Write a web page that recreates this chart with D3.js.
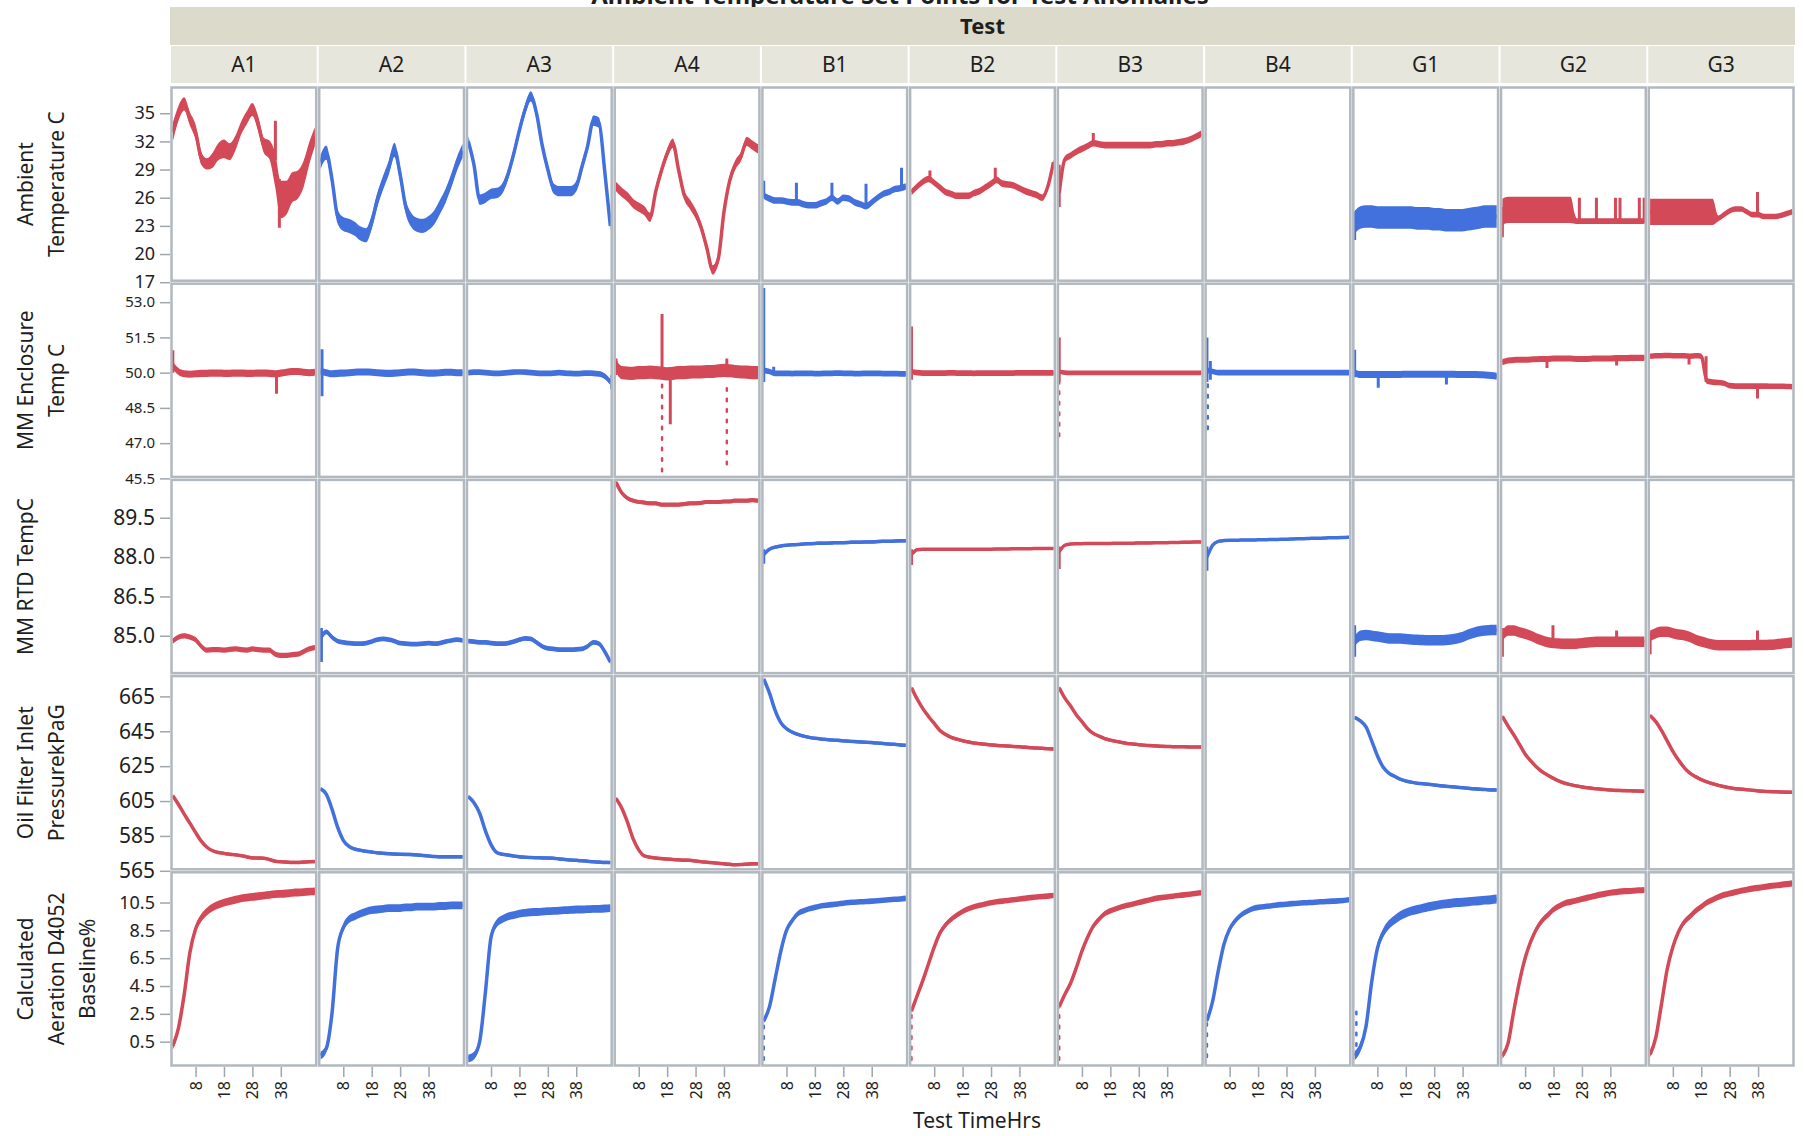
<!DOCTYPE html>
<html><head><meta charset="utf-8">
<script src="https://cdn.jsdelivr.net/npm/d3@7"></script>
<style>
body{margin:0;background:#fff}
svg{display:block}
text{font-family:"Noto Sans","Open Sans",sans-serif;fill:#1e1e1e}
</style></head>
<body><svg id="chart" width="1805" height="1136"></svg>
<script>
// ---------------- DATA ----------------
const chartTitle = "Ambient Temperature Set Points for Test Anomalies";
const groupTitle = "Test";
const xTitle = "Test TimeHrs";
const tests = ["A1","A2","A3","A4","B1","B2","B3","B4","G1","G2","G3"];
const testColorKey = ["red","blue","blue","red","blue","red","red","blue","blue","red","red"];
const timeHrs = [0,2,4,6,8,10,12,14,16,18,20,22,24,26,28,30,32,34,36,38,40,42,44,46,48,50];
const xTicks = [8,18,28,38];

// Row 1: Ambient Temperature C
const ambientTitle = ["Ambient","Temperature C"];
const ambientTicks = [17,20,23,26,29,32,35];
const ambientTemp = [
  [33.0,35.0,36.0,34.4,33.0,30.2,29.6,30.0,30.9,31.2,30.9,31.8,33.4,34.5,35.4,33.9,31.6,31.1,29.0,25.8,26.0,27.1,27.4,28.5,30.7,32.5],
  [29.8,30.8,28.0,24.0,23.2,23.0,22.7,22.2,22.0,23.4,25.8,27.6,29.2,31.1,28.5,25.0,23.6,23.1,23.0,23.3,23.9,25.0,26.2,27.8,29.6,31.0],
  [32.0,29.5,25.8,26.0,26.4,26.5,27.0,28.5,30.7,33.2,35.4,36.8,35.0,31.6,29.0,27.0,26.7,26.7,26.7,27.2,29.3,31.5,34.2,34.0,28.9,23.0],
  [27.2,26.6,26.1,25.4,25.0,24.6,23.9,26.7,28.9,30.7,31.8,29.0,26.3,25.3,24.3,22.8,20.6,18.3,19.5,24.5,27.8,29.5,30.4,32.0,31.6,31.2],
  [26.2,25.9,25.7,25.7,25.6,25.5,25.5,25.3,25.2,25.2,25.4,25.6,26.0,25.6,26.0,25.9,25.5,25.3,25.1,25.5,26.0,26.4,26.6,26.9,27.0,27.2],
  [26.6,27.2,27.7,28.0,27.6,27.1,26.6,26.4,26.2,26.2,26.2,26.5,26.7,27.1,27.5,27.9,27.5,27.4,27.3,27.0,26.7,26.5,26.3,26.0,27.2,29.8],
  [26.5,30.1,30.5,30.9,31.2,31.5,31.8,31.7,31.6,31.6,31.6,31.6,31.6,31.6,31.6,31.6,31.6,31.7,31.7,31.8,31.8,31.9,32.0,32.2,32.5,32.8],
  null,
  [23.4,23.9,24.0,24.0,23.9,23.9,23.9,23.9,23.9,23.9,23.9,23.8,23.8,23.8,23.7,23.7,23.6,23.6,23.6,23.6,23.7,23.8,23.9,24.0,24.0,24.0],
  [24.5,24.7,24.7,24.7,24.7,24.7,24.7,24.7,24.7,24.7,24.7,24.7,24.7,23.5,23.5,23.5,23.5,23.5,23.5,23.5,23.5,23.5,23.5,23.5,23.5,23.5],
  [24.5,24.5,24.5,24.5,24.5,24.5,24.5,24.5,24.5,24.5,24.5,24.5,23.8,24.2,24.6,24.8,24.8,24.5,24.2,24.2,24.0,24.0,24.0,24.1,24.3,24.5]
];
const ambientSpread = [
  [1.0,0.8,0.7,0.7,0.8,0.7,0.6,0.8,0.9,1.0,0.9,0.8,0.7,0.7,0.7,0.8,0.8,1.0,1.8,2.0,1.8,1.6,1.5,1.4,1.2,1.0],
  0.75, 0.55, 0.5, 0.35, 0.35, 0.35, 0, 1.2,
  [1.4,1.4,1.4,1.4,1.4,1.4,1.4,1.4,1.4,1.4,1.4,1.4,1.4,0.3,0.3,0.3,0.3,0.3,0.3,0.3,0.3,0.3,0.3,0.3,0.3,0.3],
  [1.4,1.4,1.4,1.4,1.4,1.4,1.4,1.4,1.4,1.4,1.4,1.4,0.3,0.3,0.3,0.3,0.3,0.3,0.3,0.3,0.3,0.3,0.3,0.3,0.3,0.3]
];
// [test index, time, low, high]
const ambientSpikes = [
  [0,36.1,30.0,34.2],[0,37.5,22.8,28.0],
  [4,0,26.0,27.8],[4,11.5,25.5,27.6],[4,24,25.8,27.6],[4,36,25.1,27.5],[4,48.5,26.9,29.2],
  [5,6.5,27.8,28.9],[5,29.5,27.8,29.2],
  [6,0,25.0,29.5],[6,12,31.5,32.9],
  [8,0,21.5,24.5],
  [9,0,21.8,25.0],[9,27.1,23.3,26.0],[9,33.1,23.3,26.0],[9,39.8,23.3,26.0],[9,41.4,23.3,26.0],[9,48.2,23.3,26.0],[9,49.9,23.3,26.0],
  [10,37.8,24.2,26.6]
];
const ambientDots = [];

// Row 2: MM Enclosure Temp C
const enclosureTitle = ["MM Enclosure","Temp C"];
const enclosureTicks = [45.5,47.0,48.5,50.0,51.5,53.0];
const enclosureTemp = [
  [50.3,50.05,49.95,49.93,49.95,49.97,49.97,49.98,49.98,49.97,49.97,49.98,49.98,49.97,49.97,49.98,49.98,49.97,49.95,49.98,50.02,50.05,50.05,50.02,50.0,50.02],
  [50.05,50.0,49.95,49.97,49.98,50.0,50.02,50.03,50.03,50.02,50.0,49.98,49.97,49.98,50.0,50.02,50.03,50.02,50.0,49.98,49.98,50.0,50.02,50.02,50.0,50.0],
  [50.0,50.02,50.02,50.0,49.98,49.97,49.98,50.0,50.02,50.03,50.02,50.0,49.98,49.97,49.97,49.98,50.0,49.98,49.97,49.96,49.97,49.98,49.97,49.95,49.85,49.6],
  [50.3,50.0,49.98,49.97,50.0,50.0,50.02,50.0,49.98,49.95,49.97,50.0,50.0,50.02,50.03,50.03,50.05,50.05,50.08,50.1,50.08,50.05,50.03,50.02,50.0,50.0],
  [50.1,50.05,49.97,49.97,49.97,49.96,49.97,49.97,49.97,49.96,49.96,49.97,49.97,49.98,49.97,49.97,49.96,49.96,49.97,49.97,49.97,49.96,49.96,49.96,49.95,49.95],
  [50.05,50.0,49.98,49.98,49.98,49.98,49.98,49.99,49.98,49.98,49.98,49.97,49.98,49.98,49.98,49.98,49.98,49.98,49.98,49.99,49.99,49.99,49.99,49.99,49.99,49.99],
  [50.05,50.0,49.99,49.99,49.99,49.99,49.99,49.99,49.99,49.99,49.99,49.99,49.99,49.99,49.99,49.99,49.99,49.99,49.99,49.99,49.99,49.99,49.99,49.99,49.99,49.99],
  [50.1,50.05,50.0,50.0,50.0,50.0,50.0,50.0,50.0,50.0,50.0,50.0,50.0,50.0,50.0,50.0,50.0,50.0,50.0,50.0,50.0,50.0,50.0,50.0,50.0,50.0],
  [50.0,49.92,49.92,49.92,49.92,49.92,49.92,49.92,49.92,49.93,49.93,49.93,49.93,49.93,49.93,49.93,49.93,49.93,49.92,49.92,49.92,49.92,49.91,49.9,49.88,49.85],
  [50.45,50.52,50.54,50.55,50.55,50.56,50.57,50.58,50.58,50.6,50.6,50.6,50.6,50.58,50.58,50.58,50.6,50.6,50.6,50.6,50.62,50.62,50.62,50.63,50.63,50.63],
  [50.7,50.72,50.72,50.73,50.72,50.72,50.72,50.7,50.72,50.7,49.64,49.6,49.58,49.55,49.45,49.43,49.43,49.43,49.43,49.43,49.43,49.42,49.42,49.42,49.41,49.4]
];
const enclosureSpread = [0.15,0.15,0.12,0.28,0.12,0.12,0.1,0.12,0.15,0.13,0.12];
const enclosureSpikes = [
  [0,0,50.0,50.95],[0,36.5,49.1,50.0],
  [1,0.5,49.0,51.0],
  [2,50.5,49.3,49.9],
  [3,0,49.9,50.6],[3,16.2,50.0,52.5],[3,19.1,47.8,50.0],[3,39,50.0,50.6],
  [4,0,49.6,53.6],[4,3.5,49.9,50.25],
  [5,0,49.7,51.96],
  [6,0,49.6,51.5],
  [7,0,49.6,51.5],[7,1.2,49.7,50.5],
  [8,0,49.8,50.98],[8,8.3,49.36,49.9],[8,32.3,49.5,49.9],
  [9,15.7,50.2,50.6],[9,40.2,50.3,50.6],
  [10,13.7,50.35,50.7],[10,19.7,49.6,50.7],[10,37.8,48.9,49.45]
];
const enclosureDots = [[3,16.2,45.8,49.6],[3,39,46.1,49.6],[6,0,47.3,49.6],[7,0.3,47.6,49.6]];

// Row 3: MM RTD TempC
const rtdTitle = ["MM RTD TempC"];
const rtdTicks = [85.0,86.5,88.0,89.5];
const rtdTemp = [
  [84.8,84.95,85.0,84.95,84.85,84.6,84.45,84.47,84.47,84.45,84.48,84.5,84.47,84.45,84.5,84.47,84.45,84.45,84.3,84.25,84.25,84.28,84.3,84.4,84.5,84.55],
  [84.9,85.15,84.95,84.8,84.75,84.72,84.7,84.7,84.72,84.78,84.85,84.88,84.85,84.8,84.72,84.7,84.68,84.68,84.7,84.72,84.7,84.72,84.78,84.82,84.85,84.82],
  [84.8,84.78,84.75,84.75,84.72,84.7,84.7,84.72,84.78,84.85,84.9,84.88,84.75,84.6,84.52,84.5,84.47,84.47,84.47,84.48,84.5,84.6,84.75,84.7,84.4,84.0],
  [90.85,90.45,90.25,90.15,90.1,90.08,90.05,90.05,90.0,90.0,90.0,90.0,90.02,90.05,90.05,90.07,90.1,90.1,90.1,90.12,90.12,90.15,90.15,90.15,90.17,90.15],
  [88.1,88.3,88.38,88.42,88.45,88.47,88.48,88.5,88.51,88.52,88.53,88.53,88.54,88.55,88.55,88.56,88.57,88.57,88.58,88.58,88.59,88.6,88.6,88.61,88.62,88.62],
  [88.1,88.28,88.3,88.3,88.3,88.3,88.3,88.3,88.3,88.3,88.3,88.3,88.3,88.3,88.3,88.31,88.31,88.31,88.32,88.32,88.32,88.32,88.33,88.33,88.33,88.33],
  [88.2,88.45,88.5,88.51,88.51,88.52,88.52,88.52,88.52,88.52,88.53,88.53,88.53,88.53,88.54,88.54,88.54,88.55,88.55,88.55,88.56,88.56,88.57,88.57,88.58,88.58],
  [88.0,88.45,88.6,88.63,88.64,88.64,88.65,88.65,88.65,88.66,88.66,88.67,88.67,88.68,88.68,88.69,88.7,88.7,88.71,88.72,88.72,88.73,88.74,88.74,88.75,88.76],
  [84.8,85.0,85.03,85.0,84.97,84.93,84.9,84.9,84.9,84.88,84.86,84.85,84.84,84.83,84.83,84.83,84.84,84.86,84.9,84.95,85.05,85.12,85.17,85.2,85.22,85.22],
  [85.0,85.2,85.2,85.13,85.08,85.0,84.9,84.82,84.75,84.72,84.71,84.7,84.7,84.7,84.72,84.74,84.76,84.77,84.77,84.77,84.77,84.77,84.77,84.77,84.77,84.77],
  [85.0,85.1,85.15,85.15,85.1,85.05,85.02,84.95,84.85,84.78,84.72,84.67,84.64,84.64,84.64,84.64,84.64,84.64,84.65,84.65,84.65,84.66,84.67,84.7,84.72,84.74]
];
const rtdSpread = [0.1,0.09,0.09,0.08,0.06,0.05,0.05,0.05,0.2,0.2,0.2];
const rtdSpikes = [
  [1,0.3,84.0,85.3],
  [4,0,87.75,88.3],[5,0,87.7,88.3],[6,0,87.55,88.4],[7,0,87.48,88.4],
  [8,0,84.2,85.4],[9,0,84.2,85.3],[9,17.8,84.8,85.4],[9,40.2,84.8,85.2],
  [10,0,84.3,85.1],[10,37.8,84.7,85.2]
];
const rtdDots = [];

// Row 4: Oil Filter Inlet PressurekPaG
const oilTitle = ["Oil Filter Inlet","PressurekPaG"];
const oilTicks = [565,585,605,625,645,665];
const oilPressure = [
  [608,603,597.5,592.3,587,582,578.5,576.5,575.5,575,574.5,574.2,573.7,573,572.4,572.3,572.2,571.5,570.5,570.2,570,569.8,569.8,570,570.2,570.3],
  [612,609,600.5,590,582.5,579,577.5,576.8,576.2,575.8,575.3,575,574.8,574.6,574.5,574.4,574.3,574.1,573.8,573.5,573.2,573,573,573,573,573],
  [607.5,604,598,588,580,575.5,574.5,574,573.5,573,572.8,572.6,572.5,572.4,572.3,572.2,571.8,571.5,571.2,571,570.8,570.5,570.2,570,569.8,569.7],
  [606.5,601,593,583.5,577,573.5,572.8,572.3,572,571.7,571.5,571.3,571.1,571,570.6,570.2,569.9,569.6,569.3,569,568.7,568.5,568.6,568.8,569,569],
  [675,667,657,650,646.5,644.5,643.2,642.2,641.5,641,640.6,640.3,640,639.8,639.5,639.3,639.1,638.9,638.7,638.5,638.3,638,637.7,637.5,637.2,637],
  [670,663.5,658,653.5,649.5,645.5,643.2,641.5,640.5,639.6,638.9,638.3,637.9,637.5,637.2,636.9,636.7,636.5,636.3,636.1,635.9,635.6,635.4,635.2,635,634.8],
  [670,664,659.5,654.5,650.5,646.5,643.8,642.2,640.8,639.9,639.2,638.6,638,637.7,637.3,637,636.8,636.6,636.4,636.3,636.2,636.1,636.1,636,636,636],
  null,
  [653,651,647.5,639.5,631,624.5,621,619.2,617.5,616.5,615.8,615.2,614.9,614.6,614.2,613.8,613.5,613.2,612.9,612.6,612.3,612,611.8,611.6,611.4,611.3],
  [653.5,648,643,637.5,632,628,624.5,621.8,619.8,618,616.4,615.2,614.4,613.7,613.1,612.6,612.2,611.9,611.6,611.3,611.1,611,610.9,610.8,610.7,610.6],
  [654,650.5,645.5,639.5,633.5,628.5,624.2,621,619,617.3,616,614.9,614,613.3,612.6,612.1,611.8,611.5,611.2,610.8,610.6,610.4,610.3,610.2,610.1,610]
];
const oilSpread = [0.9,0.9,0.9,0.9,0.9,0.9,0.9,0,0.9,0.9,0.9];
const oilSpikes = [];
const oilDots = [];

// Row 5: Calculated Aeration D4052 Baseline%
const aerationTitle = ["Calculated","Aeration D4052","Baseline%"];
const aerationTicks = [0.5,2.5,4.5,6.5,8.5,10.5];
const aeration = [
  [0.2,1.5,3.9,6.9,8.6,9.4,9.85,10.15,10.35,10.5,10.6,10.7,10.8,10.85,10.9,10.95,11.0,11.05,11.1,11.12,11.15,11.2,11.22,11.25,11.28,11.3],
  [-0.5,0.0,2.5,7.2,8.7,9.3,9.5,9.7,9.85,9.95,10.0,10.05,10.1,10.1,10.1,10.15,10.15,10.2,10.2,10.2,10.2,10.25,10.25,10.3,10.3,10.3],
  [-0.7,-0.5,0.5,4.0,8.0,9.0,9.3,9.5,9.6,9.7,9.75,9.8,9.82,9.85,9.88,9.9,9.92,9.95,9.97,10.0,10.0,10.02,10.05,10.05,10.07,10.1],
  null,
  [2.0,3.0,5.0,7.0,8.5,9.2,9.7,9.9,10.05,10.15,10.25,10.3,10.35,10.4,10.45,10.5,10.52,10.55,10.58,10.6,10.63,10.66,10.7,10.73,10.76,10.8],
  [2.7,3.8,4.9,6.1,7.3,8.3,8.9,9.3,9.6,9.85,10.05,10.2,10.3,10.4,10.48,10.55,10.6,10.65,10.7,10.75,10.8,10.85,10.9,10.93,10.96,11.0],
  [3.0,3.9,4.7,5.8,7.0,8.0,8.8,9.3,9.7,9.9,10.05,10.2,10.3,10.4,10.5,10.6,10.7,10.8,10.85,10.9,10.95,11.0,11.05,11.1,11.15,11.2],
  [2.0,3.4,5.6,7.5,8.6,9.2,9.6,9.85,10.05,10.15,10.2,10.25,10.3,10.35,10.38,10.42,10.45,10.48,10.5,10.52,10.55,10.58,10.6,10.62,10.65,10.7],
  [-0.5,0.1,1.6,4.8,7.2,8.3,8.9,9.25,9.55,9.75,9.9,10.0,10.1,10.2,10.27,10.35,10.4,10.45,10.5,10.52,10.56,10.6,10.63,10.67,10.7,10.75],
  [-0.5,0.4,2.7,4.8,6.5,7.7,8.6,9.2,9.6,10.0,10.25,10.45,10.55,10.65,10.75,10.85,10.95,11.05,11.12,11.2,11.25,11.3,11.32,11.35,11.38,11.4],
  [-0.4,0.8,3.2,5.7,7.3,8.4,9.1,9.5,9.9,10.2,10.5,10.7,10.9,11.05,11.15,11.25,11.35,11.42,11.5,11.55,11.62,11.68,11.72,11.77,11.82,11.88]
];
const aerationSpread = [0.28,0.28,0.28,0,0.2,0.2,0.2,0.2,0.32,0.22,0.22];
const aerationSpikes = [];
const aerationDots = [[4,0,-0.8,1.8],[5,0,-0.8,2.6],[6,0,-0.8,2.9],[7,0,-0.6,1.8],[8,0.6,0.2,3.2]];

// ---------------- LAYOUT / STYLE ----------------
const L = 170, R = 1795, T = 86, B = 1067;
const colW = (R - L) / tests.length;
const rowH = (B - T) / 5;
const palette = {red: "#d44958", blue: "#4270dd"};
const frameColor = "#b1b8bf";
const fontStack = '"Noto Sans","Open Sans",sans-serif';

const rows = [
  {title: ambientTitle, ticks: ambientTicks, values: ambientTemp, spread: ambientSpread, spikes: ambientSpikes, dots: ambientDots, domain: [17, 37.9], fmt: d3.format("d"), fs: 18},
  {title: enclosureTitle, ticks: enclosureTicks, values: enclosureTemp, spread: enclosureSpread, spikes: enclosureSpikes, dots: enclosureDots, domain: [45.5, 53.85], fmt: d3.format(".1f"), fs: 15},
  {title: rtdTitle, ticks: rtdTicks, values: rtdTemp, spread: rtdSpread, spikes: rtdSpikes, dots: rtdDots, domain: [83.52, 91.0], fmt: d3.format(".1f"), fs: 21},
  {title: oilTitle, ticks: oilTicks, values: oilPressure, spread: oilSpread, spikes: oilSpikes, dots: oilDots, domain: [565, 677.5], fmt: d3.format("d"), fs: 21},
  {title: aerationTitle, ticks: aerationTicks, values: aeration, spread: aerationSpread, spikes: aerationSpikes, dots: aerationDots, domain: [-1.32, 12.78], fmt: d3.format(".1f"), fs: 18}
];

const svg = d3.select("#chart");
const defs = svg.append("defs");

// Title (clipped at the top edge, as in the original)
svg.append("text").attr("x", 900).attr("y", 4).attr("text-anchor", "middle")
  .attr("font-size", 24).attr("font-weight", "bold").text(chartTitle);

// Group header band
svg.append("rect").attr("x", L).attr("y", 7).attr("width", R - L).attr("height", 38).attr("fill", "#dcdacb");
svg.append("text").attr("x", (L + R) / 2).attr("y", 34).attr("text-anchor", "middle")
  .attr("font-size", 22).attr("font-weight", "bold").attr("fill", "#111").text(groupTitle);

const xScales = tests.map((t, i) => d3.scaleLinear().domain([-1, 51]).range([L + i * colW, L + (i + 1) * colW]));

tests.forEach((t, i) => {
  svg.append("rect").attr("x", L + i * colW + 1).attr("y", 46).attr("width", colW - 2).attr("height", 37).attr("fill", "#e7e6dc");
  svg.append("text").attr("x", L + (i + 0.5) * colW).attr("y", 72).attr("text-anchor", "middle")
    .attr("font-size", 21).text(t);
});

rows.forEach((row, r) => {
  const y0 = T + r * rowH, y1 = T + (r + 1) * rowH;
  const y = d3.scaleLinear().domain(row.domain).range([y1, y0]);

  const cy = (y0 + y1) / 2;
  row.title.forEach((line, j) => {
    const tx = 25 + j * 31;
    svg.append("text").attr("transform", `translate(${tx},${cy}) rotate(-90)`)
      .attr("text-anchor", "middle").attr("dominant-baseline", "central")
      .attr("font-size", 21).attr("fill", "#2a2a2a").text(line);
  });

  const ax = svg.append("g").attr("transform", `translate(${L},0)`)
    .call(d3.axisLeft(y).tickValues(row.ticks).tickFormat(row.fmt).tickSize(10).tickPadding(5));
  ax.select(".domain").remove();
  ax.selectAll(".tick line").attr("stroke", "#9ea6ae").attr("stroke-width", 1.5);
  ax.selectAll(".tick text").attr("font-size", row.fs).attr("fill", "#1e1e2e").attr("font-family", fontStack);

  tests.forEach((test, i) => {
    const x = xScales[i];
    const px = L + i * colW;
    const clipId = `clip-${r}-${i}`;
    defs.append("clipPath").attr("id", clipId).append("rect")
      .attr("x", px + 2).attr("y", y0 + 2).attr("width", colW - 4).attr("height", rowH - 4);
    const g = svg.append("g").attr("clip-path", `url(#${clipId})`);
    const col = palette[testColorKey[i]];
    const vals = row.values[i];
    if (vals) {
      const sp = row.spread[i];
      const pts = vals.map((v, k) => ({t: timeHrs[k], v: v, s: Array.isArray(sp) ? sp[k] : sp}));
      g.append("path").datum(pts)
        .attr("d", d3.area().x(d => x(d.t)).y0(d => y(d.v - d.s)).y1(d => y(d.v + d.s)).curve(d3.curveMonotoneX))
        .attr("fill", col);
      g.append("path").datum(pts)
        .attr("d", d3.line().x(d => x(d.t)).y(d => y(d.v)).curve(d3.curveMonotoneX))
        .attr("fill", "none").attr("stroke", col).attr("stroke-width", 3.5).attr("stroke-linejoin", "round");
    }
    row.spikes.filter(s => s[0] === i).forEach(s => {
      g.append("line").attr("x1", x(s[1])).attr("x2", x(s[1])).attr("y1", y(s[2])).attr("y2", y(s[3]))
        .attr("stroke", col).attr("stroke-width", 3);
    });
    row.dots.filter(s => s[0] === i).forEach(s => {
      g.append("line").attr("x1", x(s[1])).attr("x2", x(s[1])).attr("y1", y(s[2])).attr("y2", y(s[3]))
        .attr("stroke", col).attr("stroke-width", 2.5).attr("stroke-dasharray", "2.5,8").attr("stroke-linecap", "round");
    });
    svg.append("rect").attr("x", px + 1.5).attr("y", y0 + 1.5).attr("width", colW - 3).attr("height", rowH - 3)
      .attr("fill", "none").attr("stroke", frameColor).attr("stroke-width", 2.5);
  });
});

tests.forEach((t, i) => {
  const ax = svg.append("g").attr("transform", `translate(0,${B})`)
    .call(d3.axisBottom(xScales[i]).tickValues(xTicks).tickSize(10).tickPadding(5));
  ax.select(".domain").remove();
  ax.selectAll(".tick line").attr("stroke", "#9ea6ae").attr("stroke-width", 1.5);
  ax.selectAll(".tick text").attr("font-size", 16).attr("fill", "#1e1e2e").attr("font-family", fontStack)
    .attr("transform", "rotate(-90)").attr("text-anchor", "end")
    .attr("x", -14).attr("y", 0).attr("dy", "0.35em");
});

svg.append("text").attr("x", 977).attr("y", 1128).attr("text-anchor", "middle")
  .attr("font-size", 21).attr("fill", "#2a2a2a").text(xTitle);
</script>
</body></html>
